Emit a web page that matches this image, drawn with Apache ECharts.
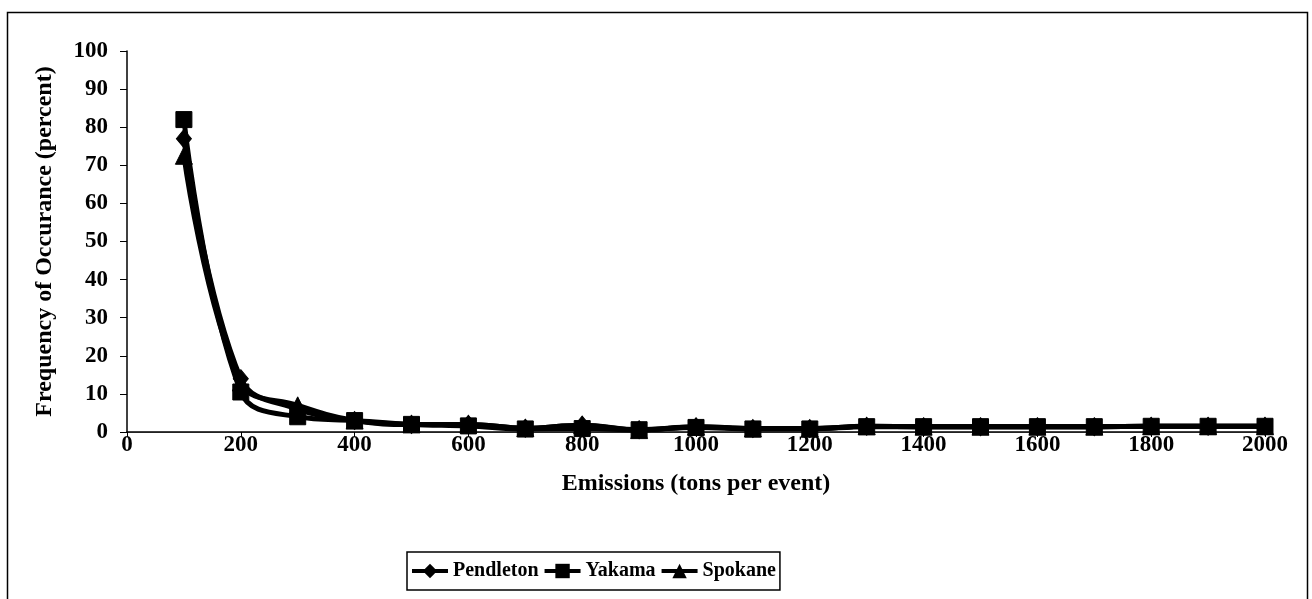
<!DOCTYPE html>
<html>
<head>
<meta charset="utf-8">
<script src="https://cdn.jsdelivr.net/npm/echarts@6/dist/echarts.min.js"></script>
<style>html,body{margin:0;padding:0;background:#fff}#c{width:1312px;height:599px}</style>
</head>
<body>
<div id="c"></div>
<script>
var emissions = [100,200,300,400,500,600,700,800,900,1000,1100,1200,1300,1400,1500,1600,1700,1800,1900,2000];
var pendleton = [77,14,6,3,2,2,1,1.8,0.6,1.4,0.9,0.9,1.5,1.4,1.4,1.4,1.4,1.5,1.5,1.5];
var yakama    = [82,10.5,4,3,2,1.6,0.8,0.9,0.6,1.2,0.8,0.8,1.4,1.4,1.4,1.4,1.4,1.5,1.5,1.5];
var spokane   = [72.5,13,7,3,2,2,1,1.8,0.5,1.4,0.9,0.9,1.5,1.4,1.4,1.4,1.4,1.5,1.5,1.5];
var seriesNames = ['Pendleton','Yakama','Spokane'];
var xTitle = 'Emissions (tons per event)';
var yTitle = 'Frequency of Occurance (percent)';

function pairs(vals){ return vals.map(function(v,i){ return [emissions[i], v]; }); }
var font = '"Liberation Serif","Times New Roman",serif';
var chart = echarts.init(document.getElementById('c'), null, {renderer:'canvas'});
function mk(name, vals, sym, size){
  return {
    name:name, type:'line', data:pairs(vals), smooth:0.4,
    symbol:sym, symbolSize:size, showSymbol:true,
    lineStyle:{color:'#000', width:5},
    itemStyle:{color:'#000', borderColor:'#000'},
    emphasis:{disabled:true}, animation:false
  };
}
chart.setOption({
  animation:false,
  backgroundColor:'#fff',
  grid:{left:127, right:47, top:51, bottom:167, containLabel:false},
  xAxis:[{
    type:'value', min:0, max:2000, interval:200,
    name:xTitle, nameLocation:'middle', nameGap:40,
    nameTextStyle:{fontFamily:font, fontWeight:'bold', fontSize:24, color:'#000'},
    axisLine:{show:true, onZero:false, lineStyle:{color:'#000', width:1.5}},
    axisTick:{show:true, length:5, lineStyle:{color:'#000'}},
    axisLabel:{fontFamily:font, fontWeight:'bold', fontSize:23, color:'#000', margin:2,
      formatter:function(v){ return String(v); }},
    splitLine:{show:false}
  },{
    type:'value', min:0, max:2000, position:'top',
    axisLine:{show:true, lineStyle:{color:'#222', width:1}},
    axisTick:{show:false}, axisLabel:{show:false}, splitLine:{show:false}
  }],
  yAxis:{
    type:'value', min:0, max:100, interval:10,
    name:yTitle, nameLocation:'middle', nameGap:70,
    nameTextStyle:{fontFamily:font, fontWeight:'bold', fontSize:24, color:'#000'},
    axisLine:{show:true, lineStyle:{color:'#000', width:1.5}},
    axisTick:{show:true, inside:false, length:7, lineStyle:{color:'#000'}},
    axisLabel:{fontFamily:font, fontWeight:'bold', fontSize:23, color:'#000', margin:19},
    splitLine:{show:false}
  },
  legend:{
    data:seriesNames, left:407, top:552,
    itemWidth:36, itemHeight:18, itemGap:4,
    padding:[9,4,9,3],
    borderColor:'#000', borderWidth:1.5,
    lineStyle:{width:4},
    textStyle:{fontFamily:font, fontWeight:'bold', fontSize:20, color:'#000'}
  },
  graphic:[{
    type:'rect', silent:true,
    shape:{x:7.5, y:12.5, width:1300, height:610},
    style:{fill:'none', stroke:'#000', lineWidth:1.5}
  }],
  series:[
    mk(seriesNames[0], pendleton, 'diamond', [15,18]),
    mk(seriesNames[1], yakama, 'rect', 16),
    mk(seriesNames[2], spokane, 'triangle', 17)
  ]
});
</script>
</body>
</html>
